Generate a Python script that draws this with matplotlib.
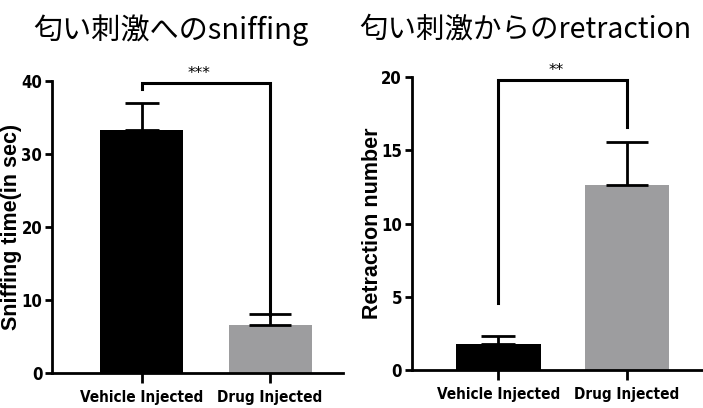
import matplotlib
matplotlib.use("Agg")
import matplotlib.pyplot as plt
from matplotlib import font_manager as fm

# ---- data ----
groups = ["Vehicle Injected", "Drug Injected"]
sniff_means = [33.3, 6.6]
sniff_err = [3.6, 1.5]
retr_means = [1.78, 12.67]
retr_err = [0.55, 2.9]
bar_colors = ["#000000", "#9d9d9f"]
titles = ["匂い刺激へのsniffing", "匂い刺激からのretraction"]
ylabels = ["Sniffing time(in sec)", "Retraction number"]
sniff_yticks = [0, 10, 20, 30, 40]
retr_yticks = [0, 5, 10, 15, 20]
sig_labels = ["***", "**"]

def to_num_stretch(s):
    if isinstance(s, (int, float)):
        return s
    return fm.stretch_dict.get(str(s).lower(), 500)

def to_num_weight(w):
    if isinstance(w, (int, float)):
        return w
    return fm.weight_dict.get(str(w).lower(), 400)

def find_condensed():
    best = None
    for f in fm.fontManager.ttflist:
        name = f.name.lower()
        st = to_num_stretch(f.stretch)
        if "narrow" in name:
            st = min(st, 300)
        if "condensed" in name and st >= 500:
            st = 300
        if st >= 500:
            continue
        if "italic" in str(f.style).lower() or "oblique" in str(f.style).lower():
            continue
        if "mono" in name or ("serif" in name and "sans" not in name):
            continue
        w = to_num_weight(f.weight)
        score = -abs(w - 700) - abs(st - 300) * 0.5
        if best is None or score > best[0]:
            best = (score, f.fname)
    return best[1] if best else None

cond_file = find_condensed()

def tick_props(size):
    if cond_file:
        return fm.FontProperties(fname=cond_file, size=size)
    return fm.FontProperties(family="Liberation Sans", weight="bold", size=size)

xt_fp = tick_props(11)
yt_fp = tick_props(12)
lab_family = ["Liberation Sans", "DejaVu Sans"]
lab_sizes = [15.5, 15.5]

fig = plt.figure(figsize=(7.03, 4.08), dpi=100)
W, H = 703, 408

def ax_at(x0, x1, ybot, ytop):
    return fig.add_axes([x0 / W, 1 - ybot / H, (x1 - x0) / W, (ybot - ytop) / H])

LW = 2.0

def style(ax, ylim, yticks, xlim, ylabel, lsize):
    ax.set_xlim(*xlim)
    ax.set_ylim(*ylim)
    for s in ["top", "right"]:
        ax.spines[s].set_visible(False)
    for s in ["left", "bottom"]:
        ax.spines[s].set_linewidth(LW)
    ax.set_yticks(yticks)
    ax.set_xticks([0, 1])
    ax.set_xticklabels(groups)
    ax.tick_params(axis="y", width=LW, length=5, pad=2)
    ax.tick_params(axis="x", width=LW, length=7, pad=5)
    for lab in ax.get_yticklabels():
        lab.set_fontproperties(yt_fp)
    for lab in ax.get_xticklabels():
        lab.set_fontproperties(xt_fp)
    ax.set_ylabel(ylabel, fontfamily=lab_family, fontweight="bold", fontsize=lsize)

def bars(ax, means, errs, width, caps):
    x = [0, 1]
    ax.bar(x, means, width=width, color=bar_colors, zorder=2)
    for i in range(2):
        ax.errorbar([x[i]], [means[i]], yerr=[[0], [errs[i]]], fmt="none",
                    ecolor="black", elinewidth=LW, capsize=caps[i], capthick=LW, zorder=3)

def bracket(ax, yl, yr, ytop, label, star_y):
    ax.plot([0, 0, 1, 1], [yl, ytop, ytop, yr], color="black", lw=LW * 1.1,
            clip_on=False, solid_joinstyle="miter", zorder=4)
    ax.text(0.45, star_y, label, ha="center", va="bottom", fontsize=11,
            fontfamily="DejaVu Sans", clip_on=False)

# left panel
ax1 = ax_at(52, 343, 373, 80.7)
bars(ax1, sniff_means, sniff_err, 0.646, [12, 15])
style(ax1, (0, 40), sniff_yticks, (-0.697, 1.568), ylabels[0], lab_sizes[0])
bracket(ax1, 38.8, 7.9, 39.7, sig_labels[0], 39.9)
ax1.yaxis.set_label_coords(-(52 - 22) / 291, 0.5)

# right panel
ax2 = ax_at(411.7, 703, 370, 77.3)
bars(ax2, retr_means, retr_err, 0.657, [12, 15])
style(ax2, (0, 20), retr_yticks, (-0.673, 1.59), ylabels[1], lab_sizes[1])
bracket(ax2, 4.57, 16.6, 19.8, sig_labels[1], 19.95)
ax2.yaxis.set_label_coords(-(411.7 - 383) / 291.3, 0.5)

fam = ["Noto Sans CJK JP", "DejaVu Sans"]
fig.text(171 / W, 1 - 30 / H, titles[0], ha="center", va="center", fontsize=21, fontfamily=fam)
fig.text(525 / W, 1 - 29 / H, titles[1], ha="center", va="center", fontsize=20.5, fontfamily=fam)

fig.savefig("out.png", dpi=100)
